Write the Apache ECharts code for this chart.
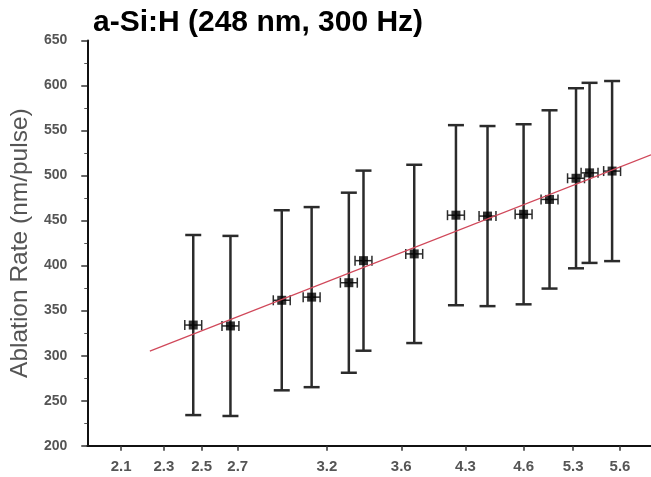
<!DOCTYPE html>
<html>
<head>
<meta charset="utf-8">
<script src="https://cdn.jsdelivr.net/npm/echarts@6/dist/echarts.min.js"></script>
<style>html,body{margin:0;padding:0;background:#fff}#c{width:651px;height:477px}</style>
</head>
<body>
<div id="c"></div>
<script>
// x axis is in relative position units (0-100 along the axis)
var tickPos = [6.0, 13.6, 20.3, 26.7, 42.5, 55.7, 67.1, 77.4, 86.2, 94.5];
var tickLabels = ['2.1', '2.3', '2.5', '2.7', '3.2', '3.6', '4.3', '4.6', '5.3', '5.6'];
var ptX = [18.8, 25.4, 34.5, 39.8, 46.4, 49.0, 58.0, 65.4, 71.0, 77.4, 82.0, 86.7, 89.1, 93.1];
var ptY = [334, 333, 361.5, 365, 381, 405.5, 413, 456, 455, 457, 473.5, 497, 503, 505];
var errY = [100, 100, 100, 100, 100, 100, 99, 100, 100, 100, 99, 100, 100, 100];
var errX = [1.5, 1.5, 1.5, 1.5, 1.5, 1.5, 1.5, 1.5, 1.5, 1.5, 1.5, 1.5, 1.5, 1.5];
var fitX = [11.1, 100];
var fitY = [305, 523];

var errData = ptX.map(function (x, i) { return [x, ptY[i], errY[i], errX[i]]; });
var ptData = ptX.map(function (x, i) { return [x, ptY[i]]; });
var fitData = fitX.map(function (x, i) { return [x, fitY[i]]; });

var chart = echarts.init(document.getElementById('c'));
var font = 'Liberation Sans, Arial, sans-serif';
chart.setOption({
  animation: false,
  title: {
    text: 'a-Si:H (248 nm, 300 Hz)',
    left: 88, top: 3,
    textStyle: { fontFamily: font, fontSize: 30, fontWeight: 'bold', color: '#000' }
  },
  grid: { left: 85, right: 0, top: 40.5, bottom: 31.3 },
  xAxis: {
    type: 'value', min: 0, max: 100,
    axisLine: { lineStyle: { color: '#111', width: 2 } },
    axisTick: { show: true, customValues: tickPos, length: 5, lineStyle: { color: '#333', width: 1.5 } },
    axisLabel: {
      customValues: tickPos,
      margin: 14,
      fontFamily: font, fontSize: 15, fontWeight: 'bold', color: '#555',
      formatter: function (v) {
        for (var i = 0; i < tickPos.length; i++) if (Math.abs(tickPos[i] - v) < 1e-6) return tickLabels[i];
        return '';
      }
    },
    splitLine: { show: false }
  },
  yAxis: {
    type: 'value', min: 200, max: 650, interval: 50,
    name: 'Ablation Rate (nm/pulse)',
    nameLocation: 'middle', nameGap: 53, nameRotate: 90,
    nameTextStyle: { fontFamily: font, fontSize: 24.5, color: '#555' },
    axisLine: { lineStyle: { color: '#111', width: 2 } },
    axisTick: { length: 6, lineStyle: { color: '#333', width: 1.5 } },
    minorTick: { show: true, splitNumber: 2, length: 3, lineStyle: { color: '#555' } },
    axisLabel: { margin: 20, fontFamily: font, fontSize: 14, fontWeight: 'bold', color: '#555' },
    splitLine: { show: false }
  },
  series: [
    {
      type: 'custom',
      data: errData,
      z: 2,
      renderItem: function (params, api) {
        var x = api.value(0), y = api.value(1), ey = api.value(2), ex = api.value(3);
        var top = api.coord([x, y + ey]);
        var bot = api.coord([x, y - ey]);
        var left = api.coord([x - ex, y]);
        var right = api.coord([x + ex, y]);
        var cw = 8, ch = 5;
        var st = { stroke: '#2b2b2b', lineWidth: 2.5 };
        var st2 = { stroke: '#2b2b2b', lineWidth: 1.5 };
        return {
          type: 'group',
          children: [
            { type: 'line', shape: { x1: top[0], y1: top[1], x2: bot[0], y2: bot[1] }, style: st },
            { type: 'line', shape: { x1: top[0] - cw, y1: top[1], x2: top[0] + cw, y2: top[1] }, style: st },
            { type: 'line', shape: { x1: bot[0] - cw, y1: bot[1], x2: bot[0] + cw, y2: bot[1] }, style: st },
            { type: 'line', shape: { x1: left[0], y1: left[1], x2: right[0], y2: right[1] }, style: st2 },
            { type: 'line', shape: { x1: left[0], y1: left[1] - ch, x2: left[0], y2: left[1] + ch }, style: st2 },
            { type: 'line', shape: { x1: right[0], y1: right[1] - ch, x2: right[0], y2: right[1] + ch }, style: st2 }
          ]
        };
      }
    },
    {
      type: 'scatter',
      data: ptData,
      symbol: 'rect', symbolSize: 9,
      itemStyle: { color: '#000' },
      z: 3
    },
    {
      type: 'line',
      data: fitData,
      showSymbol: false, symbol: 'none',
      lineStyle: { color: '#d0485a', width: 1.2 },
      z: 4
    }
  ]
});
</script>
</body>
</html>
